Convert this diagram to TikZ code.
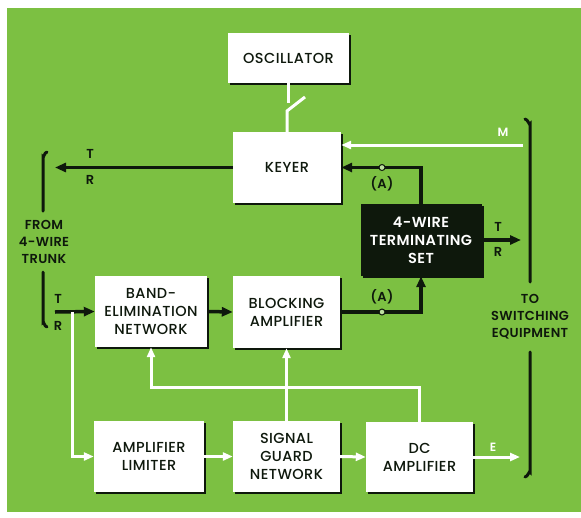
\documentclass[tikz,border=0pt]{standalone}
\usepackage{fontspec}
\setmainfont{Poppins}[UprightFont=* Medium, BoldFont=* SemiBold, LetterSpace=3]
\usetikzlibrary{arrows.meta,shadows}
\definecolor{bg}{RGB}{124,192,66}
\definecolor{ink}{RGB}{14,24,12}
\definecolor{dot}{RGB}{190,225,160}
\begin{document}
\begin{tikzpicture}[x=1pt,y=-1pt,
  box/.style={fill=white, align=center, inner sep=0pt, text=ink,
    font=\fontsize{14.5}{18}\selectfont,
    drop shadow={shadow xshift=2pt, shadow yshift=-2pt, fill=ink, opacity=1}},
  bline/.style={draw=ink, line width=3.5pt},
  wline/.style={draw=white, line width=3pt},
  barrow/.style={bline, -{Triangle[length=11pt,width=9pt]}},
  warrow/.style={wline, -{Triangle[length=10pt,width=8pt]}},
  brk/.style={draw=ink, line width=3pt, line cap=round},
  lbl/.style={text=ink, font=\bfseries\fontsize{13}{17}\selectfont, align=center, inner sep=0pt},
  wlbl/.style={text=white, font=\bfseries\fontsize{12}{16}\selectfont, inner sep=0pt},
  junction/.style={circle, draw=ink, fill=dot, line width=1pt, minimum size=6pt, inner sep=0pt}
]
\useasboundingbox (0,0) rectangle (581,517);
\fill[white] (0,0) rectangle (581,517);
\fill[bg] (7,8) rectangle (581,512);

% boxes
\node[box, minimum width=121pt, minimum height=50pt] (osc) at (288.5,58) {OSCILLATOR};
\node[box, minimum width=108pt, minimum height=71pt] (keyer) at (287,167.5) {KEYER};
\node[box, fill=ink, text=white, font=\bfseries\fontsize{14.5}{18}\selectfont,
      minimum width=121pt, minimum height=72pt, drop shadow={opacity=0}] (term) at (421,240) {4-WIRE\\TERMINATING\\SET};
\node[box, minimum width=112pt, minimum height=71pt] (band) at (151,311.5) {BAND-\\ELIMINATION\\NETWORK};
\node[box, minimum width=107pt, minimum height=72pt] (block) at (286.5,312) {BLOCKING\\AMPLIFIER};
\node[box, minimum width=110pt, minimum height=71pt] (amplim) at (149,456.5) {AMPLIFIER\\LIMITER};
\node[box, minimum width=107pt, minimum height=71pt] (sig) at (286.5,456.5) {SIGNAL\\GUARD\\NETWORK};
\node[box, minimum width=107pt, minimum height=70pt] (dc) at (419.5,457) {DC\\AMPLIFIER};

% coordinates
\coordinate (sw1) at (288.5,103);
\coordinate (sw2) at (287,111);
\coordinate (sw3) at (305,97);
\coordinate (ltip) at (55,167.5);
\coordinate (mstart) at (523,145);
\coordinate (mend) at (keyer.east |- mstart);
\coordinate (tup) at (term.north |- keyer.east);
\coordinate (tdn) at (term.south |- block.east);
\coordinate (ja) at (382,167.5);
\coordinate (jb) at (382,312);
\coordinate (rtip) at (521,240);
\coordinate (trin) at (55,312);
\coordinate (tsplit) at (72,312);
\coordinate (tdown) at (72,456.5);
\coordinate (etip) at (520,457);
\coordinate (gbus) at (419.5,387);

% oscillator - keyer switch
\draw[wline] (osc.south) -- (sw1);
\draw[wline] (keyer.north) -- (sw2) -- (sw3);

% keyer outgoing to trunk
\draw[barrow] (keyer.west) -- (ltip);
\node[lbl] (t1) at (90,154) {T};
\node[lbl] (r1) at (90,180) {R};

% M lead
\draw[warrow] (mstart) -- (mend);
\node[wlbl] (mlab) at (503,132) {M};

% terminating set to keyer
\draw[barrow] (term.north) -- (tup) -- (keyer.east);
\node[junction] (j1) at (ja) {};
\node[lbl] (a1) at (382,184) {(A)};

% blocking amp to terminating set
\draw[barrow] (block.east) -- (tdn) -- (term.south);
\node[junction] (j2) at (jb) {};
\node[lbl] (a2) at (382,297) {(A)};

% terminating set to switching
\draw[barrow] (term.east) -- (rtip);
\node[lbl] (t3) at (498,227) {T};
\node[lbl] (r3) at (498,252) {R};

% incoming trunk
\draw[barrow] (trin) -- (band.west);
\node[lbl] (t2) at (58,299) {T};
\node[lbl] (r2) at (58,326) {R};
\draw[barrow] (band.east) -- (block.west);

% white signal paths
\draw[warrow] (tsplit) -- (tdown) -- (amplim.west);
\draw[warrow] (amplim.east) -- (sig.west);
\draw[warrow] (sig.east) -- (dc.west);
\draw[warrow] (dc.east) -- (etip);
\node[wlbl] (elab) at (493,447) {E};
\draw[warrow] (dc.north) -- (gbus) -| (band.south);
\draw[warrow] (sig.north) -- (block.south);

% brackets
\draw[brk] (47,152) to[out=180,in=-90] (43,157) -- (43,211);
\draw[brk] (43,272) -- (43,322) to[out=90,in=180] (47,327);
\node[lbl] (from) at (44,242) {FROM\\4-WIRE\\TRUNK};

\draw[brk] (525,119) to[out=0,in=-90] (530,124) -- (530,282);
\draw[brk] (530,352) -- (530,472) to[out=90,in=0] (525,477);
\node[lbl] (to) at (530,317) {TO\\SWITCHING\\EQUIPMENT};
\end{tikzpicture}
\end{document}
